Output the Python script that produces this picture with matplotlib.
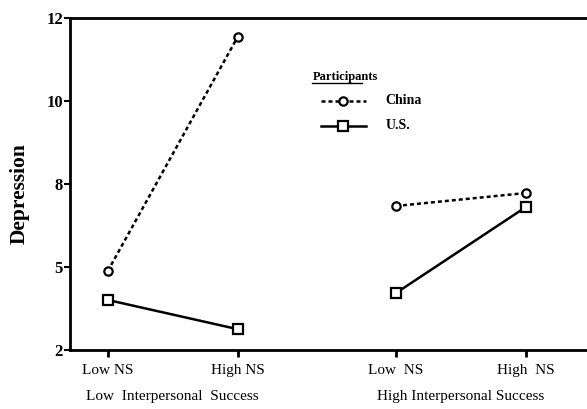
import numpy as np
import matplotlib.pyplot as plt

# data (linear depression scale 2..12)
positions = [0, 1, 2.22, 3.22]
tick_labels = ['Low NS', 'High NS', 'Low  NS', 'High  NS']
china = [4.38, 11.43, 6.34, 6.73]
us = [3.51, 2.63, 3.72, 6.31]
y_ticks = [2, 4.5, 7, 9.5, 12]
y_tick_labels = ['2', '5', '8', '10', '12']
groups = ['Low  Interpersonal  Success', 'High Interpersonal Success']

plt.rcParams['font.family'] = ['Liberation Serif', 'DejaVu Serif']

fig = plt.figure(figsize=(5.87, 4.09), dpi=100)
ax = fig.add_axes([0.119, 0.144, 0.881, 0.812])

for seg in (slice(0, 2), slice(2, 4)):
    ax.plot(positions[seg], china[seg], color='black', lw=1.8, ls=(0, (1.6, 1.2)),
            marker='o', ms=6, mfc='white', mec='black', mew=1.6)
    ax.plot(positions[seg], us[seg], color='black', lw=1.8, ls='-',
            marker='s', ms=7, mfc='white', mec='black', mew=1.6)

ax.set_xlim(-0.292, 3.69)
ax.set_ylim(2, 12)
ax.set_xticks(positions)
ax.set_xticklabels(tick_labels, fontsize=11)
ax.set_yticks(y_ticks)
ax.set_yticklabels(y_tick_labels, fontsize=12, fontweight='bold')
ax.tick_params(axis='x', length=5, width=2, pad=5)
ax.tick_params(axis='y', length=4, width=1.5, pad=1)
ax.spines['right'].set_visible(False)
for s in ('left', 'bottom', 'top'):
    ax.spines[s].set_linewidth(2)

ax.set_ylabel('Depression', fontsize=15.5, fontweight='bold')
ax.yaxis.set_label_coords(-0.077, 0.47)

xt = ax.get_xaxis_transform()
ax.text(0.5, -0.139, groups[0], transform=xt, ha='center', va='center', fontsize=11)
ax.text(2.72, -0.139, groups[1], transform=xt, ha='center', va='center', fontsize=11)

# legend drawn by hand
ax.text(1.575, 0.823, 'Participants', transform=xt,
        fontsize=9, fontweight='bold', va='center')
ax.plot([1.57, 1.955], [0.805, 0.805], transform=xt, color='black', lw=1)
ax.plot([1.64, 1.99], [0.751, 0.751], transform=xt,
        color='black', lw=1.8, ls=(0, (1.6, 1.2)))
ax.plot([1.815], [0.751], transform=xt,
        marker='o', ms=6, mfc='white', mec='black', mew=1.6)
ax.text(2.14, 0.751, 'China', transform=xt,
        fontsize=10, fontweight='bold', va='center')
ax.plot([1.64, 1.99], [0.676, 0.676], transform=xt, color='black', lw=1.8)
ax.plot([1.815], [0.676], transform=xt,
        marker='s', ms=7, mfc='white', mec='black', mew=1.6)
ax.text(2.14, 0.676, 'U.S.', transform=xt,
        fontsize=10, fontweight='bold', va='center')

fig.savefig('out.png', dpi=100)
